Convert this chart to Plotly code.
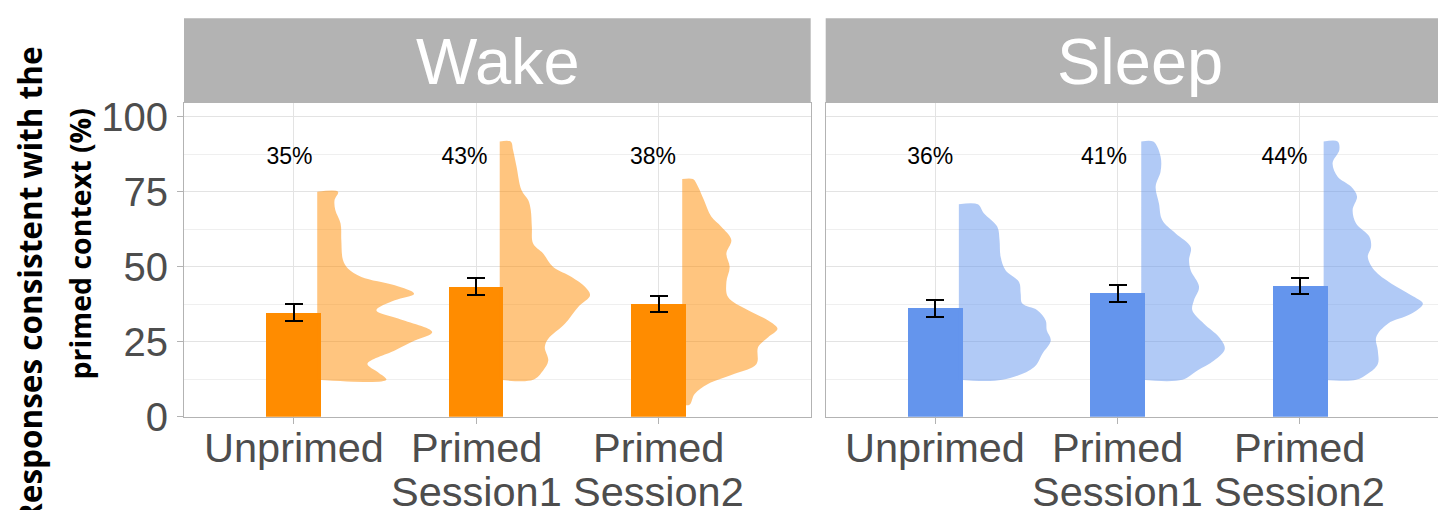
import plotly.graph_objects as go

# ---------------- data ----------------
panels = ["Wake", "Sleep"]
categories = [1, 2, 3]
tick_line1 = ["Unprimed", "Primed", "Primed"]
tick_line2 = ["", "Session1", "Session2"]

wake_means = [34.7, 43.3, 37.6]
wake_se = [2.8, 2.8, 2.8]
wake_labels = ["35%", "43%", "38%"]

sleep_means = [36.1, 41.1, 43.6]
sleep_se = [2.7, 2.7, 2.8]
sleep_labels = ["36%", "41%", "44%"]

# half-violin density profiles: response value (%) and half-width (category units)
wake_unprimed_y = [75.0, 72.2, 68.9, 64.4, 58.9, 52.2, 49.4, 46.6, 43.8, 41.0, 38.8, 35.5, 32.7, 28.2, 25.4, 22.1, 17.6, 14.8, 12.3]
wake_unprimed_w = [0.114, 0.095, 0.099, 0.128, 0.132, 0.141, 0.168, 0.242, 0.425, 0.531, 0.425, 0.324, 0.443, 0.630, 0.535, 0.425, 0.275, 0.333, 0.379]

wake_s1_y = [91.7, 88.9, 83.4, 75.6, 72.2, 68.9, 63.3, 57.7, 54.4, 49.9, 46.6, 43.3, 40.5, 36.6, 31.0, 26.0, 23.2, 18.7, 15.4, 12.3]
wake_s1_w = [0.060, 0.073, 0.092, 0.119, 0.156, 0.170, 0.176, 0.183, 0.238, 0.293, 0.394, 0.467, 0.495, 0.430, 0.357, 0.266, 0.247, 0.266, 0.238, 0.183]

wake_s2_y = [79.2, 76.7, 72.2, 66.7, 63.3, 58.9, 54.4, 49.9, 44.9, 39.9, 35.5, 32.1, 29.3, 26.5, 23.2, 17.6, 14.3, 10.9, 7.6, 4.0]
wake_s2_w = [0.059, 0.086, 0.119, 0.159, 0.214, 0.269, 0.242, 0.260, 0.242, 0.251, 0.361, 0.471, 0.522, 0.471, 0.416, 0.407, 0.287, 0.141, 0.068, 0.040]

sleep_unprimed_y = [70.8, 67.8, 63.3, 58.9, 53.3, 48.8, 44.9, 41.0, 37.7, 35.5, 32.1, 28.8, 25.4, 21.0, 16.5, 12.3]
sleep_unprimed_w = [0.104, 0.137, 0.211, 0.223, 0.229, 0.256, 0.330, 0.339, 0.348, 0.430, 0.476, 0.482, 0.504, 0.458, 0.412, 0.238]

sleep_s1_y = [91.7, 86.7, 81.7, 76.7, 71.1, 65.6, 61.1, 56.6, 52.2, 48.8, 43.3, 38.8, 35.5, 31.0, 26.5, 22.6, 18.7, 15.4, 12.3]
sleep_s1_w = [0.066, 0.106, 0.106, 0.079, 0.097, 0.115, 0.189, 0.271, 0.262, 0.271, 0.317, 0.289, 0.280, 0.344, 0.427, 0.458, 0.399, 0.308, 0.225]

sleep_s2_y = [91.7, 88.9, 84.5, 80.0, 76.7, 73.4, 68.9, 64.4, 60.0, 56.6, 53.3, 48.8, 44.4, 40.5, 37.7, 34.3, 31.0, 26.5, 22.1, 17.6, 14.3, 12.3]
sleep_s2_w = [0.077, 0.086, 0.049, 0.077, 0.150, 0.183, 0.159, 0.178, 0.251, 0.260, 0.242, 0.278, 0.370, 0.480, 0.544, 0.480, 0.352, 0.288, 0.297, 0.297, 0.242, 0.178]

wake_profiles = [(wake_unprimed_y, wake_unprimed_w), (wake_s1_y, wake_s1_w), (wake_s2_y, wake_s2_w)]
sleep_profiles = [(sleep_unprimed_y, sleep_unprimed_w), (sleep_s1_y, sleep_s1_w), (sleep_s2_y, sleep_s2_w)]

# ---------------- styling ----------------
W, H = 1438, 510
ORANGE = "#FF8C00"
ORANGE_LIGHT = "rgba(255,140,0,0.5)"
BLUE = "#6495ED"
BLUE_LIGHT = "rgba(100,149,237,0.5)"
FONT = "Liberation Sans, Arial, sans-serif"
TICK_COLOR = "#4D4D4D"
STRIP = "#B3B3B3"
BORDER = "#B3B3B3"
VIOLIN_OFFSET = 0.13
BAR_WIDTH = 0.3
LABEL_Y = 86
wake_label_dx = [-0.022, -0.063, -0.030]
sleep_label_dx = [-0.027, -0.074, -0.085]


def px_x(p):
    return p / W


def px_y(p):
    return (H - p) / H


fig = go.Figure()

panel_specs = [
    ("x", "y", wake_means, wake_se, wake_labels, wake_label_dx, wake_profiles, ORANGE, ORANGE_LIGHT),
    ("x2", "y2", sleep_means, sleep_se, sleep_labels, sleep_label_dx, sleep_profiles, BLUE, BLUE_LIGHT),
]

for xa, ya, means, se, labels, ldx, profiles, col, col_light in panel_specs:
    # half violins (drawn first so bars sit on top)
    for cat, (ys, ws) in zip(categories, profiles):
        base = cat + VIOLIN_OFFSET
        xs = [base] + [base + w for w in ws] + [base]
        yy = [ys[0]] + list(ys) + [ys[-1]]
        fig.add_trace(go.Scatter(
            x=xs, y=yy, xaxis=xa, yaxis=ya, mode="lines", fill="toself",
            fillcolor=col_light, line=dict(width=0, shape="spline", smoothing=1.0),
            hoverinfo="skip", showlegend=False))
    fig.add_trace(go.Bar(
        x=categories, y=means, xaxis=xa, yaxis=ya, width=BAR_WIDTH,
        marker=dict(color=col, line=dict(width=0)),
        error_y=dict(type="data", array=se, color="black", thickness=2, width=9),
        showlegend=False))
    fig.add_trace(go.Scatter(
        x=[c + d for c, d in zip(categories, ldx)], y=[LABEL_Y] * 3, xaxis=xa, yaxis=ya,
        mode="text", text=labels,
        textposition="middle center", textfont=dict(family=FONT, size=23, color="black"),
        hoverinfo="skip", showlegend=False))

left_dom = [px_x(184), px_x(810.7)]
right_dom = [px_x(825.7), 1.0]
y_dom = [px_y(416.7), px_y(103)]
y_range = [0, 104.57]

common_x = dict(
    tickvals=categories, showticklabels=False,
    showgrid=True, gridcolor="#E3E3E3", gridwidth=1, zeroline=False,
    ticks="outside", ticklen=6, tickcolor=BORDER, showline=True, linecolor=BORDER, linewidth=1,
    mirror=True, fixedrange=True, automargin=False,
)
common_y = dict(
    domain=y_dom, range=y_range, tickvals=[0, 25, 50, 75, 100],
    showgrid=True, gridcolor="#E3E3E3", gridwidth=1, zeroline=False,
    minor=dict(dtick=12.5, tick0=0, showgrid=True, gridcolor="#EFEFEF", gridwidth=1, ticks=""),
    showline=True, linecolor=BORDER, linewidth=1, fixedrange=True, automargin=False,
)

fig.update_layout(
    width=W, height=H,
    margin=dict(l=0, r=0, t=0, b=0, autoexpand=False),
    paper_bgcolor="white", plot_bgcolor="white",
    showlegend=False, bargap=0,
    xaxis=dict(domain=left_dom, range=[0.4, 3.834], anchor="y", **common_x),
    xaxis2=dict(domain=right_dom, range=[0.4, 3.757], anchor="y2", **common_x),
    yaxis=dict(anchor="x", ticks="outside", ticklen=6, tickcolor=BORDER, mirror=True,
               tickfont=dict(family=FONT, size=40, color=TICK_COLOR), ticklabelstandoff=1,
               **common_y),
    yaxis2=dict(anchor="x2", showticklabels=False, ticks="", mirror=False, **common_y),
)

# facet strips
shapes = []
annotations = []
strip_centers = [px_x(497.5), px_x(1139.5)]
for name, dom, cx in zip(panels, [left_dom, right_dom], strip_centers):
    shapes.append(dict(type="rect", xref="paper", yref="paper", x0=dom[0], x1=dom[1],
                       y0=px_y(103), y1=px_y(18.3), fillcolor=STRIP, line=dict(width=0), layer="above"))
    annotations.append(dict(text=name, xref="paper", yref="paper", x=cx,
                            y=px_y(61), xanchor="center", yanchor="middle", showarrow=False,
                            font=dict(family=FONT, size=65, color="white")))

# category labels (two lines)
for xr in ["x", "x2"]:
    for cat, t1, t2 in zip(categories, tick_line1, tick_line2):
        annotations.append(dict(text=t1, xref=xr, yref="paper", x=cat, y=px_y(447),
                                xanchor="center", yanchor="middle", showarrow=False,
                                font=dict(family=FONT, size=41.5, color=TICK_COLOR)))
        if t2:
            annotations.append(dict(text=t2, xref=xr, yref="paper", x=cat, y=px_y(491),
                                    xanchor="center", yanchor="middle", showarrow=False,
                                    font=dict(family=FONT, size=41.5, color=TICK_COLOR)))

# y-axis title (two lines)
annotations.append(dict(text="<b>Responses consistent with the</b>", xref="paper", yref="paper",
                        x=px_x(29), y=px_y(44), xanchor="center", yanchor="top", textangle=-90,
                        showarrow=False, font=dict(family="Open Sans", size=31.5, color="black")))
annotations.append(dict(text="<b>primed context (%)</b>", xref="paper", yref="paper",
                        x=px_x(79), y=px_y(107), xanchor="center", yanchor="top", textangle=-90,
                        showarrow=False, font=dict(family="Open Sans", size=28.5, color="black")))

fig.update_layout(shapes=shapes, annotations=annotations)
fig.write_html("out.html")
